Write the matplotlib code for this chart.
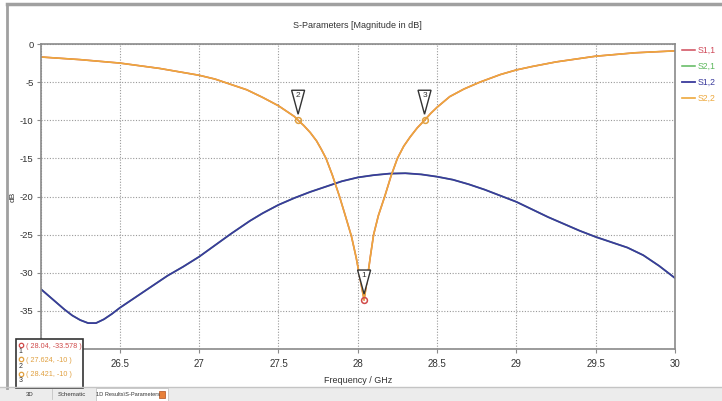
import matplotlib.pyplot as plt
from matplotlib.patches import Polygon, Rectangle
from matplotlib.lines import Line2D
from matplotlib.transforms import ScaledTranslation

plt.rcParams['font.family'] = ['Liberation Sans', 'DejaVu Sans']
plt.rcParams['axes.unicode_minus'] = False

# S2,2 (S1,1 lies on the same trace)
freq_s22 = [26.0, 26.25, 26.5, 26.75, 27.0, 27.1, 27.2, 27.3, 27.4, 27.5,
            27.55, 27.6, 27.624, 27.66, 27.7, 27.74, 27.77, 27.8, 27.84, 27.885,
            27.92, 27.96, 27.99, 28.015, 28.04, 28.06, 28.08, 28.1, 28.13, 28.17,
            28.21, 28.25, 28.29, 28.33, 28.375, 28.421, 28.46, 28.5, 28.58, 28.67,
            28.77, 28.9, 29.0, 29.1, 29.25, 29.5, 29.75, 30.0]
s22_db = [-1.7, -2.05, -2.5, -3.2, -4.1, -4.6, -5.3, -6.0, -7.0, -8.1,
          -8.8, -9.5, -10.0, -10.7, -11.6, -12.7, -13.8, -15.0, -17.2, -20.0,
          -22.4, -25.2, -28.0, -30.8, -33.578, -30.8, -27.8, -25.0, -22.5, -20.0,
          -17.3, -15.0, -13.4, -12.2, -11.0, -10.0, -9.1, -8.3, -6.9, -5.9,
          -5.0, -4.0, -3.4, -2.95, -2.35, -1.6, -1.15, -0.9]

# S1,2 (S2,1 lies on the same trace)
freq_s12 = [26.0, 26.05, 26.1, 26.15, 26.2, 26.25, 26.3, 26.35, 26.4, 26.45,
            26.5, 26.55, 26.6, 26.7, 26.8, 26.9, 27.0, 27.1, 27.2, 27.32,
            27.4, 27.5, 27.6, 27.7, 27.8, 27.9, 28.0, 28.1, 28.2, 28.3,
            28.4, 28.5, 28.6, 28.7, 28.8, 28.9, 29.0, 29.1, 29.2, 29.3,
            29.4, 29.5, 29.6, 29.7, 29.8, 29.9, 30.0]
s12_db = [-32.1, -33.0, -33.9, -34.8, -35.6, -36.2, -36.6, -36.6, -36.1, -35.4,
          -34.6, -33.9, -33.2, -31.8, -30.4, -29.2, -27.9, -26.4, -24.9, -23.2,
          -22.2, -21.1, -20.2, -19.4, -18.7, -18.0, -17.5, -17.2, -17.0, -16.95,
          -17.1, -17.4, -17.8, -18.4, -19.1, -19.9, -20.7, -21.7, -22.7, -23.6,
          -24.5, -25.3, -26.0, -26.7, -27.7, -29.1, -30.7]

marker_x = [28.04, 27.624, 28.421]
marker_y = [-33.578, -10.0, -10.0]
marker_ids = ['1', '2', '3']
marker_colors = ['#d04a4a', '#e0a040', '#e0a040']

# the corner labels (26 and -40) sit under the marker readout box
x_ticks = [26, 26.5, 27, 27.5, 28, 28.5, 29, 29.5, 30]
x_tick_labels = ['', '26.5', '27', '27.5', '28', '28.5', '29', '29.5', '30']
y_ticks = [0, -5, -10, -15, -20, -25, -30, -35, -40]
y_tick_labels = ['0', '-5', '-10', '-15', '-20', '-25', '-30', '-35', '']

W, H = 722, 401
fig = plt.figure(figsize=(W / 100, H / 100), dpi=100)
fig.patch.set_facecolor('white')

ax = fig.add_axes([40.5 / W, 1 - 349 / H, 634.5 / W, 305 / H])
ax.plot(freq_s22, s22_db, color='#d04a5a', lw=1.1, label='S1,1')
ax.plot(freq_s12, s12_db, color='#5cb85c', lw=1.1, label='S2,1')
ax.plot(freq_s12, s12_db, color='#3a3a9c', lw=1.3, label='S1,2')
ax.plot(freq_s22, s22_db, color='#eda83c', lw=1.2, label='S2,2')

ax.set_xlim(26, 30)
ax.set_ylim(-40, 0)
ax.set_xticks(x_ticks)
ax.set_xticklabels(x_tick_labels)
ax.set_yticks(y_ticks)
ax.set_yticklabels(y_tick_labels)
ax.grid(True, linestyle=(0, (1, 1.5)), color='#999999', lw=0.8)
for sp in ax.spines.values():
    sp.set_color('#8a8a8a')
    sp.set_linewidth(1.2)
ax.tick_params(direction='out', length=3, color='#8a8a8a',
               labelsize=7, labelcolor='#333333', pad=4)
ax.tick_params(axis='y', labelsize=6.8, pad=2)
ax.set_xlabel('Frequency / GHz', fontsize=6.5, color='#333333', labelpad=5)
ax.set_ylabel('dB', fontsize=6, color='#333333')
ax.yaxis.set_label_coords(-24 / 634.5, 0.5)

# marker flags and circles
for mx, my, mid, mc in zip(marker_x, marker_y, marker_ids, marker_colors):
    ax.plot(mx, my, 'o', mfc='none', mec=mc, mew=1.1, ms=4.2, zorder=5)
    tr = fig.dpi_scale_trans + ScaledTranslation(mx, my, ax.transData)
    flag = Polygon([(-0.065, 0.30), (0.065, 0.30), (0.0, 0.06)], closed=True,
                   facecolor='white', edgecolor='#333333', lw=1.0,
                   transform=tr, zorder=6, clip_on=False)
    ax.add_patch(flag)
    ax.text(0, 0.245, mid, transform=tr, fontsize=6, ha='center', va='center',
            color='#333333', zorder=7)

fig.legend(loc='upper left', bbox_to_anchor=(682 / W, 1 - 46 / H), frameon=False,
           fontsize=6.3, handlelength=1.45, handletextpad=0.35, labelspacing=0.8,
           borderpad=0, borderaxespad=0, labelcolor='linecolor')

fig.text(357 / W, 1 - 26 / H, 'S-Parameters [Magnitude in dB]', fontsize=6.5,
         ha='center', va='center', color='#333333')

# window chrome drawn in pixel coordinates
ui = fig.add_axes([0, 0, 1, 1], zorder=5)
ui.set_xlim(0, W)
ui.set_ylim(H, 0)
ui.set_axis_off()
ui.add_line(Line2D([7, W], [4, 4], color='#a0a0a0', lw=2.5))
ui.add_line(Line2D([7, 7], [4, 388], color='#a0a0a0', lw=2.0))

# tab bar
ui.add_patch(Rectangle((0, 387), W, 14, facecolor='#ececec', edgecolor='none'))
ui.add_line(Line2D([0, W], [387, 387], color='#c4c4c4', lw=1.0))
ui.add_patch(Rectangle((96, 388), 72, 13, facecolor='white', edgecolor='#c4c4c4', lw=0.6))
ui.add_line(Line2D([52, 52], [389, 399], color='#c4c4c4', lw=0.6))
ui.text(30, 395, '3D', fontsize=4.3, ha='center', va='center', color='#333333')
ui.text(72, 395, 'Schematic', fontsize=4.3, ha='center', va='center', color='#333333')
ui.text(128, 395, '1D Results\\S-Parameters', fontsize=4.1, ha='center', va='center',
        color='#333333')
ui.add_patch(Rectangle((159, 391), 6, 7, facecolor='#e8803a', edgecolor='#b05020', lw=0.5))

# marker readout box
ui.add_patch(Rectangle((16, 339), 67, 49, facecolor='white', edgecolor='#333333', lw=1.2))
for i, (mx, my, mid, mc) in enumerate(zip(marker_x, marker_y, marker_ids, marker_colors)):
    yy = 346 + i * 14.5
    ui.plot(20.5, yy - 1.5, 'o', mfc='none', mec=mc, mew=0.9, ms=3.2)
    ui.text(20.5, yy + 5.5, mid, fontsize=5, ha='center', va='center', color='#333333')
    ui.text(26.5, yy, '( %g, %g )' % (mx, my), fontsize=5.2, ha='left', va='center',
            color=mc)

fig.savefig('out.png', dpi=100)
